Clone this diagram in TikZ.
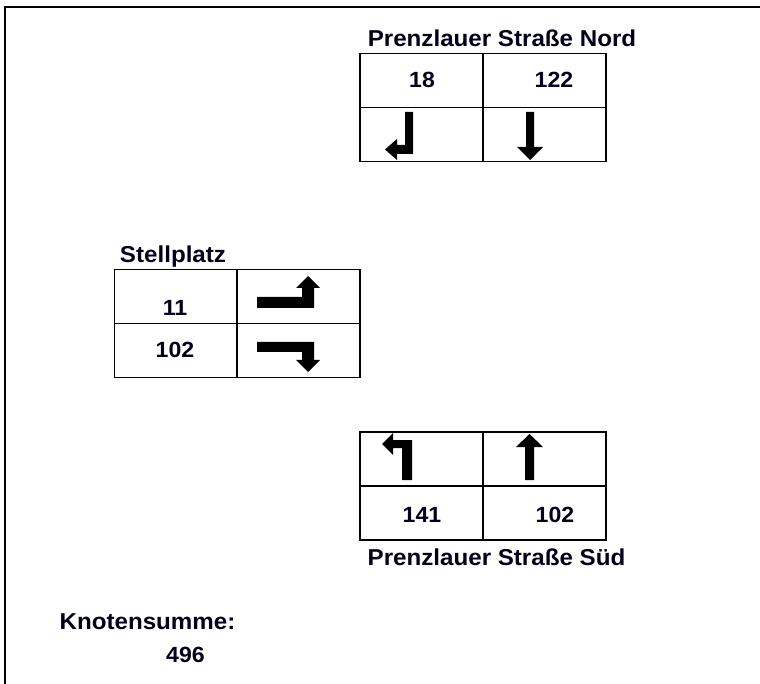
\documentclass[tikz,border=0pt]{standalone}
\usepackage{fontspec}
\setmainfont{Liberation Sans}[FakeStretch=1.05]
\begin{document}
\begin{tikzpicture}[x=1pt,y=-1pt,
  lab/.style={inner sep=0pt,anchor=base,font=\fontsize{23}{26}\selectfont\bfseries,text=black!90!blue},
  num/.style={inner sep=0pt,anchor=base,font=\fontsize{22}{25}\selectfont\bfseries,text=black!90!blue},
  cell/.style={draw=black,line width=1.4pt,inner sep=0pt,minimum width=123pt,minimum height=54pt},
  turn/.style={fill=black,draw=none}]
\useasboundingbox (0,0) rectangle (760,684);
\fill[white] (0,0) rectangle (760,684);
% frame
\draw[line width=2.5pt] (5,684) -- (5,7) -- (760,7);

% North
\node[lab] (ntitle) at (502,47) {Prenzlauer Straße Nord};
\node[cell] (n11) at (421.5,80.5) {};
\node[cell] (n12) at (544.5,80.5) {};
\node[cell] (n21) at (421.5,134.5) {};
\node[cell] (n22) at (544.5,134.5) {};
\node[num] (nv1) at (422,88) {18};
\node[num] (nv2) at (554,88) {122};
\fill[turn] (405,112) -- (413,112) -- (413,154) -- (397,154) -- (397,160) -- (385,149.5) -- (397,139) -- (397,145) -- (405,145) -- cycle;
\fill[turn] (526,112) -- (534,112) -- (534,147) -- (543,147) -- (530,160) -- (517,147) -- (526,147) -- cycle;

% Stellplatz
\node[lab] (stitle) at (173,263) {Stellplatz};
\node[cell,minimum width=122pt] (s11) at (175.5,296.5) {};
\node[cell,minimum width=123pt] (s12) at (298.5,296.5) {};
\node[cell,minimum width=122pt] (s21) at (175.5,350.5) {};
\node[cell,minimum width=123pt] (s22) at (298.5,350.5) {};
\node[num] (sv1) at (175,316) {11};
\node[num] (sv2) at (175,358) {102};
\fill[turn] (257,297) -- (302,297) -- (302,288) -- (296,288) -- (308,276) -- (320,288) -- (314,288) -- (314,308) -- (257,308) -- cycle;
\fill[turn] (257,342) -- (314,342) -- (314,360) -- (320,360) -- (308,372) -- (296,360) -- (302,360) -- (302,352) -- (257,352) -- cycle;

% South
\node[cell] (d11) at (421.5,459) {};
\node[cell] (d12) at (544.5,459) {};
\node[cell] (d21) at (421.5,513) {};
\node[cell] (d22) at (544.5,513) {};
\node[num] (dv1) at (422,522) {141};
\node[num] (dv2) at (555,522) {102};
\fill[turn] (402,480) -- (412,480) -- (412,440) -- (393,440) -- (393,433) -- (382,444) -- (393,455) -- (393,448) -- (402,448) -- cycle;
\fill[turn] (525,480) -- (534,480) -- (534,447) -- (543,447) -- (529.5,434) -- (516,447) -- (525,447) -- cycle;
\node[lab] (dtitle) at (496.5,565) {Prenzlauer Straße Süd};

% sum
\node[lab] (ksum) at (147.5,629) {Knotensumme:};
\node[num] (kval) at (185.5,662) {496};
\end{tikzpicture}
\end{document}
